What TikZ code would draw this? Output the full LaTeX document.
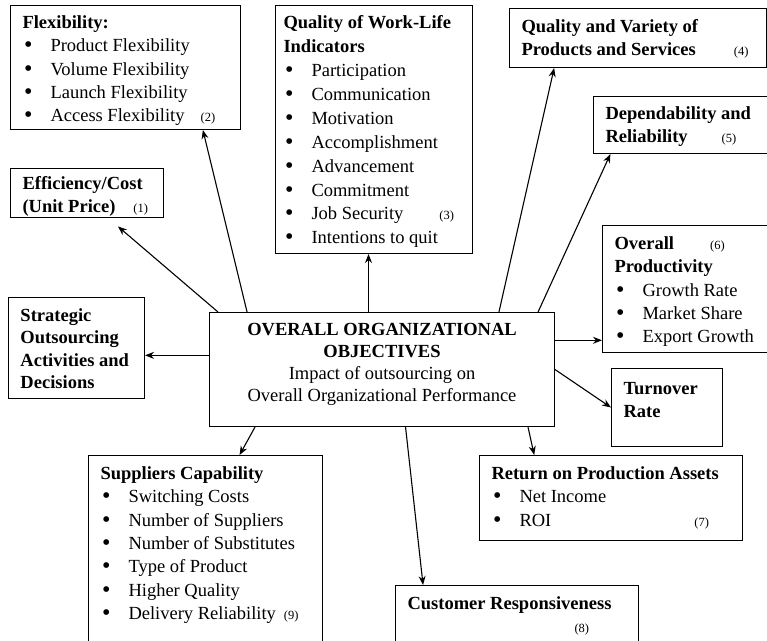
\documentclass[tikz,border=0pt]{standalone}
\usepackage{fontspec}
\setmainfont{Liberation Serif}
\usepackage{tikz}
\usetikzlibrary{arrows.meta,calc}

% box body: [top pad]{width}{height}{lines}
\newcommand{\panel}[4][7.5pt]{\parbox[c][#3][t]{#2}{\raggedright\leftskip=12pt\relax\vspace*{#1}\strut #4}}
\newcommand{\itm}{\makebox[28pt][l]{\hspace{1.5pt}\raisebox{-1pt}{\scalebox{1.3}{\textbullet}}}}
\newcommand{\objno}[1]{{\fontsize{12.5}{14}\selectfont(#1)}}

\tikzset{
  panel/.style={draw, line width=1pt, anchor=north west, inner sep=0pt,
    font=\fontsize{18.5}{23.4}\selectfont},
  arr/.style={-{Stealth[length=9pt,width=7pt]}, line width=1.1pt}
}

\begin{document}
\begin{tikzpicture}[x=1pt,y=-1pt]
    \clip (0,0) rectangle (767,640);

    % centre
    \node[panel, font=\fontsize{18.5}{22}\selectfont] (ctr) at (209,312)
      {\parbox[c][114pt][t]{345pt}{\centering\vspace*{7.5pt}\strut\textbf{OVERALL ORGANIZATIONAL}\\
       \textbf{OBJECTIVES}\\ Impact of outsourcing on\\ Overall Organizational Performance}};

    % upper left
    \node[panel] (flex) at (10,5) {\panel[6.5pt]{230pt}{124pt}{\textbf{Flexibility:}\\
      \itm Product Flexibility\\ \itm Volume Flexibility\\ \itm Launch Flexibility\\
      \itm Access Flexibility\hspace{16pt}\objno{2}}};
    \node[panel] (eff) at (10,168) {\panel[4.5pt]{153pt}{49pt}{\textbf{Efficiency/Cost}\\
      \textbf{(Unit Price)}\hspace{18pt}\objno{1}}};
    \node[panel] (strat) at (8,297) {\panel{136pt}{101pt}{\fontsize{18.5}{22.4}\selectfont
      \textbf{Strategic}\\ \textbf{Outsourcing}\\ \textbf{Activities and}\\ \textbf{Decisions}}};

    % upper middle
    \node[panel, font=\fontsize{18.5}{23.9}\selectfont] (qwl) at (275,5) {\panel[6.5pt]{197pt}{248pt}{\leftskip=8pt
      \textbf{Quality of Work-Life}\\ \textbf{Indicators}\\
      \itm Participation\\ \itm Communication\\ \itm Motivation\\ \itm Accomplishment\\
      \itm Advancement\\ \itm Commitment\\ \itm Job Security\hspace{36pt}\objno{3}\\
      \itm Intentions to quit}};

    % right
    \node[panel] (qvar) at (509,8) {\panel{257pt}{59pt}{\textbf{Quality and Variety of}\\
      \textbf{Products and Services}\hspace{38pt}\objno{4}}};
    \node[panel] (dep) at (593,96) {\panel[6.5pt]{180pt}{57pt}{\textbf{Dependability and}\\
      \textbf{Reliability}\hspace{34pt}\objno{5}}};
    \node[panel] (prod) at (602,225) {\panel{170pt}{127pt}{\textbf{Overall}\hspace{36pt}\objno{6}\\
      \textbf{Productivity}\\ \itm Growth Rate\\ \itm Market Share\\ \itm Export Growth}};
    \node[panel] (turn) at (611,368) {\panel[9.5pt]{111pt}{78pt}{\textbf{Turnover}\\ \textbf{Rate}}};

    % lower
    \node[panel] (ret) at (479,455) {\panel{263pt}{85pt}{\textbf{Return on Production Assets}\\
      \itm Net Income\\ \itm ROI\hspace{143pt}\objno{7}}};
    \node[panel] (supp) at (88,455) {\panel{234pt}{205pt}{\textbf{Suppliers Capability}\\
      \itm Switching Costs\\ \itm Number of Suppliers\\ \itm Number of Substitutes\\
      \itm Type of Product\\ \itm Higher Quality\\ \itm Delivery Reliability\hspace{8pt}\objno{9}}};
    \node[panel] (cust) at (395,585) {\panel{243pt}{75pt}{\textbf{Customer Responsiveness}\\
      \hspace*{167pt}\objno{8}}};

    % arrows
    \draw[arr] ($(ctr.north west)!.377!(ctr.south west)$) coordinate (s1) -- (s1 -| strat.east);
    \draw[arr, shorten >=13pt] ($(ctr.north west)!.026!(ctr.north east)$) -- ($(eff.south west)!.637!(eff.south east)$);
    \draw[arr] ($(ctr.north west)!.110!(ctr.north east)$) -- ($(flex.south west)!.835!(flex.south east)$);
    \draw[arr] ($(ctr.north west)!.461!(ctr.north east)$) coordinate (s4) -- (s4 |- qwl.south);
    \draw[arr] ($(ctr.north west)!.838!(ctr.north east)$) -- ($(qvar.south west)!.175!(qvar.south east)$);
    \draw[arr] ($(ctr.north west)!.951!(ctr.north east)$) -- ($(dep.south west)!.096!(dep.south east)$);
    \draw[arr] ($(ctr.north east)!.246!(ctr.south east)$) coordinate (s7) -- (s7 -| prod.west);
    \draw[arr] (ctr.east) -- (turn.west);
    \draw[arr] ($(ctr.south west)!.922!(ctr.south east)$) -- ($(ret.north west)!.209!(ret.north east)$);
    \draw[arr] ($(ctr.south west)!.133!(ctr.south east)$) -- ($(supp.north west)!.645!(supp.north east)$);
    \draw[arr] ($(ctr.south west)!.568!(ctr.south east)$) -- ($(cust.north west)!.115!(cust.north east)$);
\end{tikzpicture}
\end{document}
